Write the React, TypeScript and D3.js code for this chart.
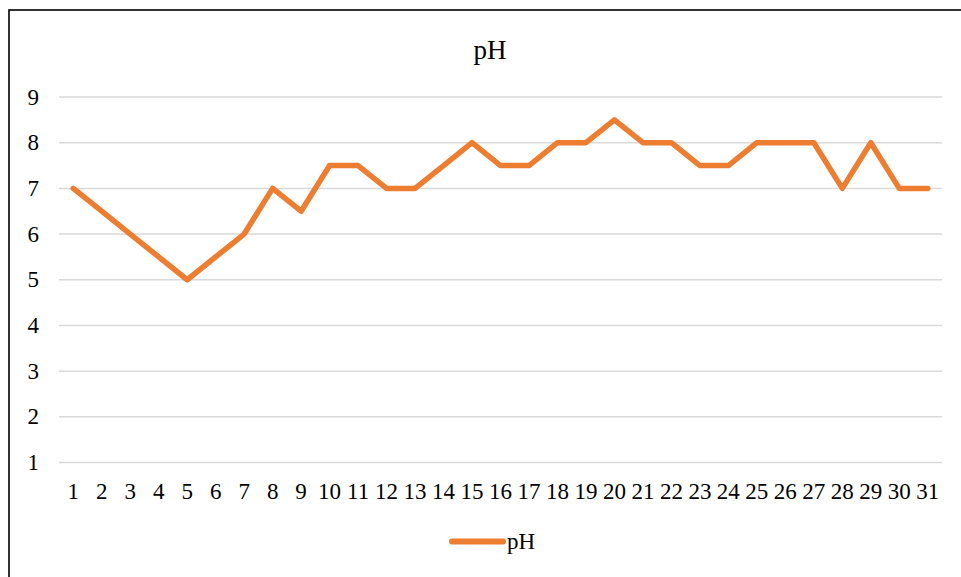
import React, { useEffect, useRef } from 'react'
import * as d3 from 'd3'

// daily pH readings, day 1..31
const days: string[] = d3.range(1, 32).map(d => String(d))
const phValues: number[] = [7, 6.5, 6, 5.5, 5, 5.5, 6, 7, 6.5, 7.5, 7.5, 7, 7, 7.5, 8, 7.5, 7.5, 8, 8, 8.5, 8, 8, 7.5, 7.5, 8, 8, 8, 7, 8, 7, 7]
const yTicks: number[] = [1, 2, 3, 4, 5, 6, 7, 8, 9]
const seriesName = 'pH'
const chartTitle = 'pH'

export default function App() {
  const node = useRef<SVGSVGElement>(null)

  useEffect(() => {
    const width = 961,
      height = 577,
      left = 59,
      right = 942,
      top = 97,
      bottom = 462.5
    const font = '"Liberation Serif", "Times New Roman", serif'
    const orange = '#ED7D31'

    const svg = d3.select(node.current)
    svg.selectAll('*').remove()
    svg.attr('width', width).attr('height', height)

    svg.append('rect')
      .attr('x', 0).attr('y', 0)
      .attr('width', width).attr('height', height)
      .attr('fill', '#fff')

    // outer chart frame (only left and top edges visible)
    svg.append('rect')
      .attr('x', 9).attr('y', 10)
      .attr('width', 1200).attr('height', 1200)
      .attr('fill', 'none')
      .attr('stroke', '#000')
      .attr('stroke-width', 1.6)

    const x = d3.scaleBand<string>()
      .domain(days)
      .range([left, right])
    const y = d3.scaleLinear()
      .domain([1, 9])
      .range([bottom, top])

    // gridlines
    svg.append('g')
      .selectAll('line')
      .data(yTicks)
      .enter()
      .append('line')
      .attr('x1', left)
      .attr('x2', right)
      .attr('y1', d => y(d))
      .attr('y2', d => y(d))
      .attr('stroke', '#d9d9d9')
      .attr('stroke-width', 1.5)

    // y labels
    svg.append('g')
      .selectAll('text')
      .data(yTicks)
      .enter()
      .append('text')
      .attr('x', 39)
      .attr('y', d => y(d) + 7.5)
      .attr('text-anchor', 'end')
      .attr('font-family', font)
      .attr('font-size', 23)
      .attr('fill', '#000')
      .text(d => d)

    // x labels
    svg.append('g')
      .selectAll('text')
      .data(days)
      .enter()
      .append('text')
      .attr('x', d => (x(d) as number) + x.bandwidth() / 2)
      .attr('y', 499)
      .attr('text-anchor', 'middle')
      .attr('font-family', font)
      .attr('font-size', 23)
      .attr('fill', '#000')
      .text(d => d)

    const line = d3.line<number>()
      .x((d, i) => (x(days[i]) as number) + x.bandwidth() / 2)
      .y(d => y(d))

    svg.append('path')
      .datum(phValues)
      .attr('d', line)
      .attr('fill', 'none')
      .attr('stroke', orange)
      .attr('stroke-width', 5.5)
      .attr('stroke-linejoin', 'round')
      .attr('stroke-linecap', 'round')

    // title
    svg.append('text')
      .attr('x', 490)
      .attr('y', 59)
      .attr('text-anchor', 'middle')
      .attr('font-family', font)
      .attr('font-size', 27)
      .attr('fill', '#000')
      .text(chartTitle)

    // legend
    svg.append('line')
      .attr('x1', 452).attr('x2', 503)
      .attr('y1', 541.5).attr('y2', 541.5)
      .attr('stroke', orange)
      .attr('stroke-width', 6)
      .attr('stroke-linecap', 'round')
    svg.append('text')
      .attr('x', 507)
      .attr('y', 549)
      .attr('font-family', font)
      .attr('font-size', 23)
      .attr('fill', '#000')
      .text(seriesName)
  }, [])

  return <svg ref={node} style={{ position: 'absolute', left: 0, top: 0, display: 'block' }} />
}
